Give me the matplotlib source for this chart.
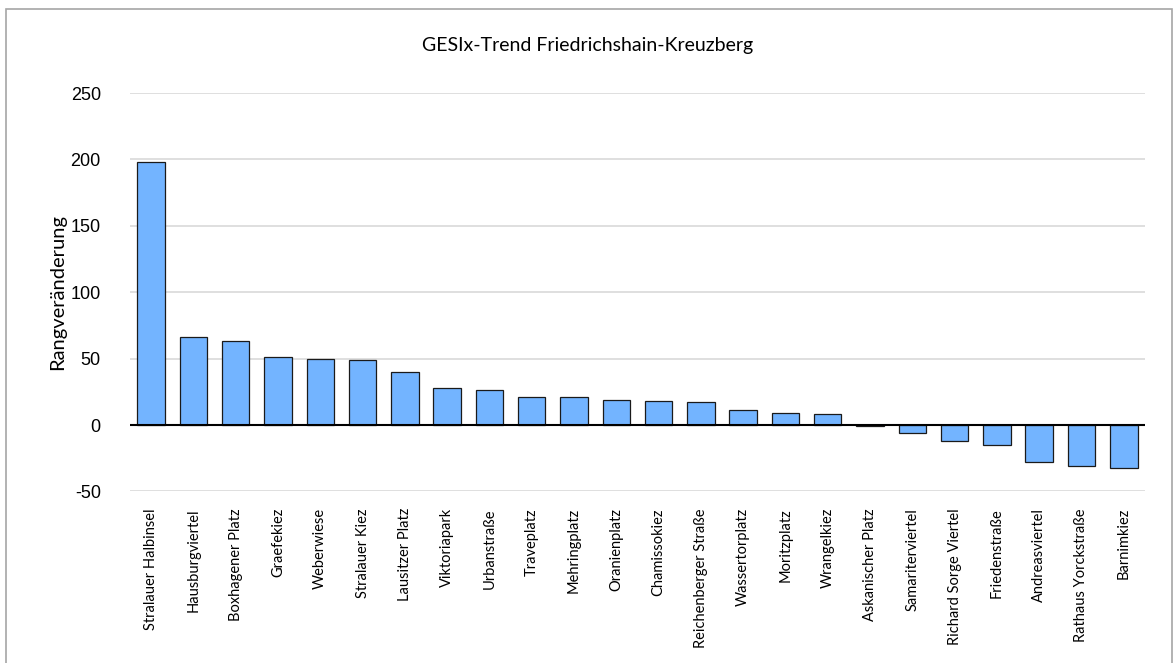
import matplotlib.pyplot as plt
from matplotlib.patches import Rectangle

# Daten
kieze = ['Stralauer Halbinsel', 'Hausburgviertel', 'Boxhagener Platz', 'Graefekiez',
         'Weberwiese', 'Stralauer Kiez', 'Lausitzer Platz', 'Viktoriapark', 'Urbanstraße',
         'Traveplatz', 'Mehringplatz', 'Oranienplatz', 'Chamissokiez', 'Reichenberger Straße',
         'Wassertorplatz', 'Moritzplatz', 'Wrangelkiez', 'Askanischer Platz', 'Samariterviertel',
         'Richard Sorge Viertel', 'Friedenstraße', 'Andreasviertel', 'Rathaus Yorckstraße',
         'Barnimkiez']
rang_aenderung = [198, 66, 63, 51, 50, 49, 40, 28, 26, 21, 21, 19, 18, 17, 11, 9, 8,
                  -1, -6, -12, -15, -28, -31, -32]
y_ticks = [-50, 0, 50, 100, 150, 200, 250]

fig = plt.figure(figsize=(11.75, 6.63), dpi=100)
ax = fig.add_axes([0.1106, 0.2588, 0.8638, 0.6009])

# Rahmen um die ganze Grafik
fig.patches.append(Rectangle((6 / 1175, -0.01), (1172 - 6) / 1175, 1 - 9 / 663 + 0.01,
                             transform=fig.transFigure, fill=False,
                             edgecolor='#a6a6a6', linewidth=1.2))

x = range(len(kieze))
ax.bar(x, rang_aenderung, width=0.65, color='#73b4ff', edgecolor='#1a1a1a',
       linewidth=0.9, zorder=3)
ax.axhline(0, color='black', linewidth=1.5, zorder=4)

ax.set_xlim(-0.5, len(kieze) - 0.5)
ax.set_ylim(-50, 250)
ax.set_yticks(y_ticks)
ax.set_yticklabels([str(v) for v in y_ticks], fontsize=13, family='Liberation Sans')
ax.grid(axis='y', color='#d9d9d9', linewidth=1.2, zorder=0)
ax.set_axisbelow(True)

ax.set_xticks(list(x))
ax.set_xticklabels(kieze, rotation=90, fontsize=10.5, family='Lato', va='top')
ax.tick_params(axis='x', length=0, pad=12)
ax.tick_params(axis='y', length=0, pad=21)
for s in ax.spines.values():
    s.set_visible(False)

ax.set_ylabel('Rangveränderung', fontsize=14.5, family='Lato', labelpad=3)
fig.text(0.5, 1 - 45 / 663, 'GESIx-Trend Friedrichshain-Kreuzberg', ha='center', va='center',
         fontsize=14, family='Lato')

plt.savefig('out.png', dpi=100)
